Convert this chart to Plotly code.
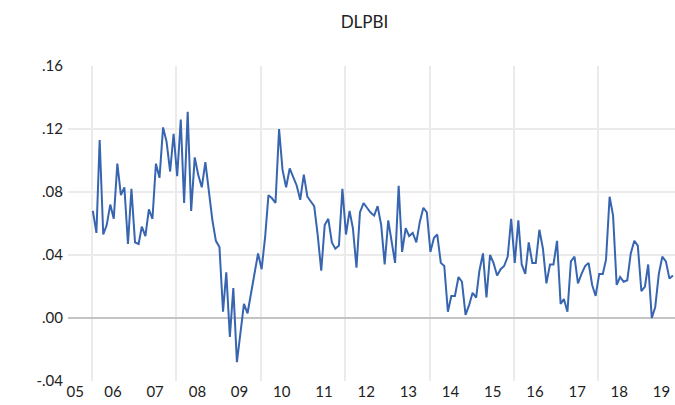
import pandas as pd
import plotly.graph_objects as go

# DLPBI monthly, 2006M01 .. 2019M10
start_month = "2006-01-01"
dlpbi = [
    0.068, 0.054, 0.113, 0.053, 0.059, 0.072, 0.063, 0.098, 0.078, 0.083, 0.047, 0.082,
    0.048, 0.047, 0.058, 0.052, 0.069, 0.063, 0.098, 0.089, 0.121, 0.112, 0.093, 0.117,
    0.090, 0.126, 0.073, 0.131, 0.068, 0.102, 0.091, 0.083, 0.099, 0.081, 0.062, 0.049,
    0.045, 0.004, 0.029, -0.012, 0.019, -0.028, -0.010, 0.009, 0.003, 0.016, 0.027, 0.041,
    0.031, 0.052, 0.078, 0.076, 0.073, 0.120, 0.094, 0.083, 0.095, 0.090, 0.084, 0.075,
    0.091, 0.077, 0.074, 0.071, 0.053, 0.030, 0.059, 0.063, 0.048, 0.044, 0.046, 0.082,
    0.053, 0.068, 0.057, 0.032, 0.067, 0.073, 0.070, 0.067, 0.065, 0.071, 0.059, 0.034,
    0.062, 0.049, 0.035, 0.084, 0.042, 0.057, 0.052, 0.054, 0.048, 0.061, 0.070, 0.067,
    0.042, 0.051, 0.053, 0.035, 0.033, 0.004, 0.014, 0.014, 0.026, 0.023, 0.002, 0.008,
    0.016, 0.013, 0.030, 0.041, 0.013, 0.040, 0.035, 0.027, 0.031, 0.033, 0.039, 0.063,
    0.035, 0.062, 0.034, 0.028, 0.048, 0.035, 0.035, 0.056, 0.044, 0.022, 0.034, 0.034,
    0.049, 0.009, 0.012, 0.004, 0.036, 0.039, 0.022, 0.028, 0.033, 0.035, 0.021, 0.014,
    0.028, 0.028, 0.037, 0.077, 0.065, 0.021, 0.026, 0.023, 0.024, 0.041, 0.049, 0.046,
    0.017, 0.020, 0.034, 0.000, 0.007, 0.028, 0.039, 0.036, 0.025, 0.027,
]
year_labels = ["05", "06", "07", "08", "09", "10", "11", "12", "13", "14",
               "15", "16", "17", "18", "19"]
y_ticks = [-0.04, 0.00, 0.04, 0.08, 0.12, 0.16]
y_tick_text = ["-.04", ".00", ".04", ".08", ".12", ".16"]

dates = pd.date_range(start_month, periods=len(dlpbi), freq="MS") + pd.Timedelta(days=8)
# labels centred on the visible part of each year
label_pos = [pd.Timestamp("2005-08-10")] + [pd.Timestamp(f"20{y}-07-02") for y in year_labels[1:]]

fig = go.Figure(go.Scatter(
    x=dates, y=dlpbi, mode="lines",
    line=dict(color="#3765b0", width=2),
    hoverinfo="x+y",
))

font = dict(family="Lato, 'Open Sans', sans-serif", size=15, color="#222222")

fig.update_layout(
    width=675, height=405,
    margin=dict(l=68, r=0, t=66, b=24, autoexpand=False),
    paper_bgcolor="white", plot_bgcolor="white",
    showlegend=False,
    font=font,
    title=dict(text="DLPBI", x=0.54, xanchor="center", y=0.945, yanchor="middle",
               font=dict(family="Lato, 'Open Sans', sans-serif", size=17, color="#222222")),
    xaxis=dict(
        range=[pd.Timestamp("2005-06-08"), pd.Timestamp("2019-10-27")],
        tickmode="array", tickvals=label_pos, ticktext=year_labels,
        showgrid=False, zeroline=False, showline=False, ticks="",
        automargin=False, ticklabelstandoff=0,
        minor=dict(tick0="2006-01-01", dtick="M24", showgrid=True,
                   gridcolor="#ebebeb", gridwidth=1.5, ticks=""),
    ),
    yaxis=dict(
        range=[-0.04, 0.16],
        tickmode="array", tickvals=y_ticks, ticktext=y_tick_text,
        showgrid=True, gridcolor="#ebebeb", gridwidth=1.5,
        zeroline=True, zerolinecolor="#c4c4c4", zerolinewidth=1.5,
        showline=False, ticks="", ticklabelstandoff=4, automargin=False,
    ),
)

fig.write_html("out.html", config={"displayModeBar": False},
               post_script="document.body.style.margin='0';document.body.style.overflow='hidden';")
